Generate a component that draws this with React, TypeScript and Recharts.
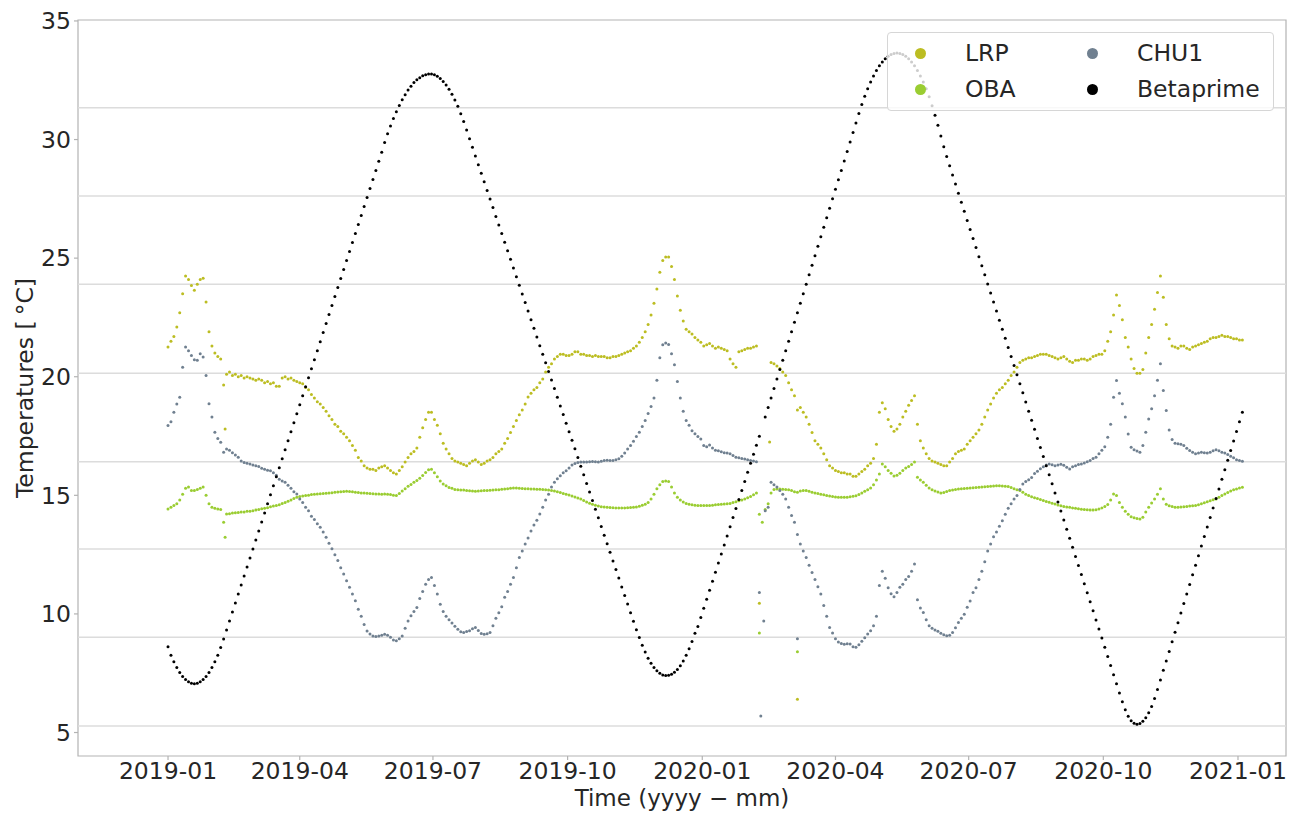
import React from 'react';
import { ScatterChart, Scatter, XAxis, YAxis, ReferenceLine, ReferenceArea, Legend } from 'recharts';

// Days counted from 2019-01-01, one reading every STEP_DAYS days
const STEP_DAYS = 2;
const xTickDays = [0, 90, 181, 273, 365, 456, 547, 639, 731];
const xTickLabels = ['2019-01', '2019-04', '2019-07', '2019-10', '2020-01', '2020-04', '2020-07', '2020-10', '2021-01'];
const yTicks = [5, 10, 15, 20, 25, 30, 35];
const gridValues = [5.28, 9.02, 12.74, 16.42, 20.15, 23.9, 27.62, 31.34];
const xDomain = [-61.5, 763.8];
const yDomain = [4.01, 35.04];

const lrp = [
  21.25, 21.5, 21.7, 22.1, 22.7, 23.5, 24.25, 24.1, 23.85, 23.65,
  23.9, 24.1, 24.15, 23.15, 21.9, 21.3, 21.0, 20.85, 20.75, 19.65,
  20.1, 20.2, 20.05, 20.1, 20.0, 20.05, 19.95, 20.0, 19.95, 19.9,
  19.85, 19.9, 19.85, 19.75, 19.8, 19.7, 19.75, 19.6, 19.6, 19.95,
  20.0, 19.9, 19.95, 19.85, 19.8, 19.75, 19.7, 19.55, 19.45, 19.25,
  19.1, 18.95, 18.85, 18.7, 18.55, 18.35, 18.2, 18.0, 17.9, 17.7,
  17.6, 17.45, 17.3, 17.1, 16.9, 16.6, 16.45, 16.25, 16.15, 16.1,
  16.1, 16.05, 16.15, 16.2, 16.25, 16.15, 16.05, 15.95, 15.9, 16.05,
  16.2, 16.4, 16.6, 16.75, 16.85, 17.0, 17.45, 17.85, 18.2, 18.5,
  18.5, 18.2, 17.95, 17.6, 17.2, 16.95, 16.75, 16.55, 16.45, 16.4,
  16.35, 16.3, 16.25, 16.35, 16.45, 16.5, 16.4, 16.3, 16.35, 16.45,
  16.5, 16.6, 16.75, 16.85, 16.95, 17.2, 17.4, 17.65, 17.9, 18.15,
  18.4, 18.6, 18.85, 19.15, 19.3, 19.45, 19.55, 19.75, 19.9, 20.2,
  20.4, 20.55, 20.75, 20.85, 20.95, 20.95, 20.9, 20.9, 20.95, 21.05,
  21.05, 20.95, 20.95, 20.9, 20.9, 20.85, 20.9, 20.85, 20.85, 20.85,
  20.8, 20.8, 20.85, 20.85, 20.9, 20.95, 21.0, 21.05, 21.1, 21.2,
  21.3, 21.45, 21.65, 21.9, 22.2, 22.6, 23.1, 23.7, 24.4, 24.9,
  25.05, 25.05, 24.65, 24.1, 23.4, 22.8, 22.35, 22.0, 21.9, 21.8,
  21.65, 21.55, 21.45, 21.3, 21.35, 21.4, 21.3, 21.2, 21.25, 21.2,
  21.15, 21.1, 20.75, 20.55, 20.4, 21.05, 21.1, 21.15, 21.2, 21.2,
  21.25, 21.3, null, null, null, null, 20.6, 20.55, 20.45, 20.35,
  20.2, 20.05, 19.75, 19.45, 19.2, 18.6, 18.7, 18.5, 18.3, 18.0,
  17.65, 17.3, 17.15, 17.0, 16.75, 16.5, 16.25, 16.15, 16.05, 16.0,
  15.95, 15.95, 15.9, 15.9, 15.8, 15.8, 15.9, 16.0, 16.1, 16.25,
  16.35, 16.55, 17.15, 18.5, 18.9, 18.65, 18.2, 17.9, 17.7, 17.8,
  18.0, 18.3, 18.55, 18.8, 19.0, 19.2, 18.0, 17.3, 17.0, 16.75,
  16.55, 16.45, 16.4, 16.35, 16.3, 16.25, 16.25, 16.4, 16.55, 16.75,
  16.85, 16.9, 16.95, 17.15, 17.3, 17.45, 17.6, 17.75, 18.0, 18.3,
  18.6, 18.85, 19.1, 19.3, 19.45, 19.55, 19.7, 19.85, 20.05, 20.2,
  20.4, 20.6, 20.7, 20.75, 20.8, 20.8, 20.85, 20.9, 20.95, 20.95,
  20.95, 20.9, 20.85, 20.8, 20.75, 20.8, 20.85, 20.75, 20.65, 20.6,
  20.7, 20.7, 20.75, 20.75, 20.7, 20.75, 20.85, 20.9, 20.95, 20.95,
  21.1, 21.5, 21.9, 22.6, 23.45, 23.0, 22.4, 21.65, 21.25, 20.75,
  20.35, 20.15, 20.15, 20.3, 21.0, 21.65, 22.2, 22.85, 23.55, 24.25,
  23.35, 22.2, 21.6, 21.3, 21.25, 21.2, 21.3, 21.3, 21.2, 21.15,
  21.25, 21.3, 21.35, 21.4, 21.45, 21.5, 21.6, 21.65, 21.65, 21.7,
  21.75, 21.7, 21.7, 21.65, 21.6, 21.6, 21.55, 21.55,
];

const oba = [
  14.42, 14.5, 14.57, 14.65, 14.8, 15.05, 15.3, 15.35, 15.2, 15.2,
  15.25, 15.3, 15.35, 15.0, 14.65, 14.5, 14.45, 14.42, 14.4, 13.86,
  14.21, 14.22, 14.25, 14.27, 14.28, 14.3, 14.3, 14.33, 14.33, 14.35,
  14.38, 14.4, 14.43, 14.46, 14.48, 14.52, 14.55, 14.57, 14.6, 14.66,
  14.7, 14.75, 14.8, 14.87, 14.92, 14.95, 14.97, 14.99, 15.0, 15.03,
  15.05, 15.06, 15.07, 15.08, 15.09, 15.1, 15.11, 15.13, 15.14, 15.15,
  15.16, 15.17, 15.16, 15.15, 15.13, 15.12, 15.1, 15.1, 15.09, 15.08,
  15.07, 15.06, 15.06, 15.05, 15.06, 15.05, 15.03, 15.0, 14.99, 15.08,
  15.18, 15.28, 15.38, 15.46, 15.55, 15.62, 15.72, 15.84, 15.96, 16.08,
  16.1, 15.95, 15.78, 15.6, 15.48, 15.4, 15.33, 15.3, 15.25, 15.23,
  15.22, 15.22, 15.2, 15.19, 15.18, 15.17, 15.18, 15.19, 15.2, 15.2,
  15.21, 15.22, 15.23, 15.24, 15.26, 15.27, 15.28, 15.3, 15.31, 15.31,
  15.3, 15.29, 15.28, 15.28, 15.27, 15.27, 15.26, 15.26, 15.25, 15.23,
  15.22, 15.2, 15.18, 15.15, 15.12, 15.08, 15.05, 15.01, 14.97, 14.93,
  14.89, 14.84, 14.78, 14.72, 14.67, 14.62, 14.58, 14.55, 14.52, 14.51,
  14.5, 14.49, 14.48, 14.47, 14.47, 14.47, 14.47, 14.48, 14.49, 14.5,
  14.51, 14.54, 14.58, 14.62, 14.7, 14.85, 15.05, 15.28, 15.45, 15.58,
  15.6, 15.58, 15.35, 15.1, 14.92, 14.8, 14.72, 14.66, 14.62, 14.6,
  14.58, 14.57, 14.57, 14.57, 14.57, 14.57, 14.58, 14.6, 14.61, 14.62,
  14.63, 14.65, 14.66, 14.7, 14.73, 14.77, 14.8, 14.85, 14.9, 14.95,
  15.02, 15.1, 14.2, 13.86, 14.4, 14.65, 15.1, 15.25, 15.27, 15.27,
  15.26, 15.25, 15.23, 15.2, 15.15, 15.13, 15.18, 15.2, 15.2, 15.17,
  15.13, 15.1, 15.08, 15.05, 15.02, 14.99, 14.97, 14.95, 14.93, 14.92,
  14.92, 14.92, 14.92, 14.94, 14.96, 14.98, 15.03, 15.1, 15.17, 15.24,
  15.31, 15.45, 15.65, 15.9, 16.32, 16.2, 16.05, 15.93, 15.82, 15.85,
  15.93, 16.05, 16.15, 16.22, 16.3, 16.4, 15.76, 15.65, 15.55, 15.42,
  15.31, 15.24, 15.18, 15.14, 15.1, 15.12, 15.16, 15.2, 15.22, 15.25,
  15.27, 15.28, 15.29, 15.3, 15.31, 15.32, 15.33, 15.34, 15.35, 15.36,
  15.37, 15.38, 15.39, 15.4, 15.4, 15.39, 15.38, 15.37, 15.33, 15.28,
  15.23, 15.2, 15.13, 15.05, 14.99, 14.94, 14.9, 14.87, 14.82, 14.78,
  14.74, 14.71, 14.67, 14.63, 14.59, 14.56, 14.53, 14.51, 14.5, 14.47,
  14.45, 14.43, 14.41, 14.4, 14.39, 14.38, 14.38, 14.39, 14.42, 14.47,
  14.53, 14.61, 14.8, 15.06, 14.99, 14.7, 14.5, 14.33, 14.2, 14.1,
  14.05, 14.02, 14.0, 14.08, 14.3, 14.5, 14.68, 14.85, 15.05, 15.28,
  14.85, 14.62, 14.56, 14.53, 14.5, 14.5, 14.51, 14.52, 14.53, 14.55,
  14.56, 14.57, 14.6, 14.64, 14.69, 14.73, 14.77, 14.81, 14.85, 14.92,
  14.99, 15.06, 15.12, 15.18, 15.23, 15.27, 15.31, 15.34,
];

const chu1 = [
  17.94, 18.1, 18.5, 18.85, 19.14, 20.4, 21.25, 21.1, 20.9, 20.72,
  20.69, 20.97, 20.83, 20.05, 18.86, 18.3, 17.66, 17.4, 17.24, 16.82,
  16.95, 16.9, 16.8, 16.7, 16.61, 16.45, 16.38, 16.35, 16.32, 16.28,
  16.25, 16.22, 16.14, 16.1, 16.06, 16.04, 15.95, 15.85, 15.68, 15.6,
  15.55, 15.42, 15.3, 15.15, 15.06, 14.85, 14.7, 14.5, 14.35, 14.12,
  13.98, 13.8, 13.65, 13.45, 13.23, 12.98, 12.75, 12.5, 12.25, 11.95,
  11.68, 11.4, 11.12, 10.84, 10.56, 10.2, 9.9, 9.55, 9.28, 9.15,
  9.07, 9.05, 9.07, 9.1, 9.14, 9.1, 9.02, 8.9, 8.87, 8.95,
  9.07, 9.4, 9.7, 9.92, 10.1, 10.27, 10.65, 10.95, 11.25, 11.45,
  11.54, 11.2, 10.84, 10.41, 10.1, 9.9, 9.75, 9.62, 9.48, 9.35,
  9.25, 9.22, 9.26, 9.29, 9.38, 9.43, 9.3, 9.17, 9.14, 9.16,
  9.22, 9.5, 9.82, 10.05, 10.3, 10.7, 10.95, 11.25, 11.54, 11.95,
  12.38, 12.65, 12.95, 13.2, 13.5, 13.75, 13.95, 14.21, 14.5, 14.8,
  15.05, 15.35, 15.55, 15.7, 15.83, 15.95, 16.04, 16.15, 16.28, 16.34,
  16.38, 16.4, 16.41, 16.4, 16.42, 16.43, 16.42, 16.4, 16.44, 16.47,
  16.48, 16.47, 16.47, 16.5, 16.54, 16.65, 16.78, 16.95, 17.1, 17.28,
  17.48, 17.66, 17.9, 18.15, 18.45, 18.75, 19.1, 19.85, 20.8, 21.35,
  21.42, 21.36, 20.97, 20.5, 19.8, 19.1, 18.55, 18.15, 17.95, 17.72,
  17.6, 17.48, 17.38, 17.1, 17.05, 17.12, 17.0, 16.9, 16.88, 16.84,
  16.8, 16.78, 16.75, 16.68, 16.61, 16.58, 16.55, 16.53, 16.5, 16.47,
  16.45, 16.42, null, null, 14.35, 14.5, 15.55, 15.45, 15.35, 15.2,
  15.05, 14.85, 14.5, 14.15, 13.86, 13.35, 12.95, 12.65, 12.38, 12.05,
  11.75, 11.45, 11.15, 10.84, 10.35, 9.9, 9.43, 9.2, 8.95, 8.82,
  8.75, 8.72, 8.74, 8.73, 8.62, 8.6, 8.7, 8.85, 9.0, 9.15,
  9.29, 9.5, 9.9, 11.2, 11.8, 11.5, 11.1, 10.85, 10.72, 10.9,
  11.12, 11.25, 11.45, 11.58, 11.8, 12.1, 10.6, 10.25, 10.06, 9.75,
  9.5, 9.4, 9.32, 9.27, 9.18, 9.12, 9.08, 9.1, 9.22, 9.42,
  9.64, 9.82, 9.99, 10.28, 10.55, 10.9, 11.1, 11.45, 11.8, 12.2,
  12.65, 12.95, 13.25, 13.45, 13.7, 13.93, 14.2, 14.45, 14.65, 14.85,
  14.99, 15.25, 15.48, 15.58, 15.66, 15.75, 15.92, 16.02, 16.12, 16.21,
  16.28, 16.32, 16.29, 16.25, 16.28, 16.31, 16.27, 16.18, 16.11, 16.2,
  16.25, 16.3, 16.32, 16.36, 16.42, 16.47, 16.55, 16.61, 16.75, 16.9,
  17.05, 17.45, 18.0, 19.14, 19.84, 19.3, 18.86, 18.3, 17.59, 17.03,
  16.92, 16.87, 16.82, 17.1, 17.66, 18.22, 18.65, 19.2, 19.85, 20.55,
  19.42, 18.58, 17.75, 17.35, 17.2, 17.17, 17.15, 17.1, 16.98, 16.89,
  16.82, 16.75, 16.78, 16.82, 16.8, 16.78, 16.82, 16.88, 16.92, 16.88,
  16.82, 16.78, 16.72, 16.65, 16.58, 16.5, 16.47, 16.44,
];

const betaprime = [
  8.62, 8.26, 7.98, 7.74, 7.53, 7.36, 7.23, 7.14, 7.08, 7.06,
  7.08, 7.14, 7.23, 7.36, 7.53, 7.74, 7.98, 8.26, 8.58, 8.94,
  9.32, 9.70, 10.08, 10.46, 10.84, 11.22, 11.60, 11.98, 12.36, 12.74,
  13.12, 13.50, 13.88, 14.26, 14.64, 15.02, 15.40, 15.78, 16.16, 16.54,
  16.92, 17.30, 17.68, 18.06, 18.44, 18.82, 19.20, 19.58, 19.96, 20.34,
  20.72, 21.10, 21.48, 21.86, 22.24, 22.62, 23.00, 23.38, 23.76, 24.14,
  24.52, 24.90, 25.28, 25.66, 26.04, 26.42, 26.80, 27.18, 27.56, 27.94,
  28.32, 28.70, 29.08, 29.46, 29.88, 30.24, 30.57, 30.89, 31.17, 31.44,
  31.68, 31.89, 32.09, 32.25, 32.40, 32.52, 32.61, 32.69, 32.73, 32.76,
  32.76, 32.73, 32.67, 32.57, 32.45, 32.30, 32.12, 31.91, 31.67, 31.40,
  31.09, 30.76, 30.40, 30.03, 29.67, 29.31, 28.94, 28.58, 28.22, 27.85,
  27.49, 27.13, 26.76, 26.40, 26.04, 25.67, 25.31, 24.95, 24.58, 24.22,
  23.86, 23.49, 23.13, 22.77, 22.40, 22.04, 21.68, 21.31, 20.95, 20.59,
  20.22, 19.86, 19.50, 19.13, 18.77, 18.41, 18.04, 17.68, 17.32, 16.96,
  16.59, 16.23, 15.87, 15.50, 15.14, 14.78, 14.41, 14.05, 13.69, 13.32,
  12.96, 12.60, 12.23, 11.87, 11.51, 11.14, 10.78, 10.42, 10.05, 9.69,
  9.33, 9.01, 8.68, 8.39, 8.13, 7.92, 7.74, 7.60, 7.50, 7.43,
  7.40, 7.41, 7.46, 7.54, 7.66, 7.82, 8.02, 8.26, 8.53, 8.84,
  9.19, 9.47, 9.85, 10.24, 10.62, 11.00, 11.38, 11.76, 12.15, 12.53,
  12.91, 13.29, 13.67, 14.06, 14.44, 14.82, 15.20, 15.58, 15.97, 16.35,
  16.73, 17.11, 17.49, null, 18.30, 18.70, 19.10, 19.50, 19.90, 20.30,
  20.70, 21.10, 21.50, 21.90, 22.30, 22.70, 23.10, 23.50, 23.90, 24.30,
  24.70, 25.10, 25.50, 25.90, 26.30, 26.70, 27.10, 27.50, 27.90, 28.30,
  28.70, 29.10, 29.50, 29.90, 30.30, 30.70, 31.10, 31.48, 31.83, 32.14,
  32.43, 32.68, 32.91, 33.11, 33.27, 33.41, 33.51, 33.59, 33.63, 33.65,
  33.63, 33.59, 33.51, 33.41, 33.27, 33.11, 32.91, 32.68, 32.43, 32.14,
  31.80, 31.42, 31.02, 30.60, 30.15, 29.70, 29.28, 28.89, 28.51, 28.13,
  27.74, 27.36, 26.98, 26.59, 26.21, 25.83, 25.45, 25.06, 24.68, 24.30,
  23.91, 23.53, 23.15, 22.77, 22.38, 22.00, 21.62, 21.23, 20.85, 20.47,
  20.08, 19.70, 19.32, 18.93, 18.55, 18.17, 17.79, 17.40, 17.02, 16.64,
  16.25, 15.87, 15.49, 15.10, 14.72, 14.34, 13.96, 13.57, 13.19, 12.81,
  12.42, 12.04, 11.66, 11.27, 10.89, 10.51, 10.13, 9.74, 9.36, 8.98,
  8.59, 8.21, 7.83, 7.44, 7.06, 6.67, 6.30, 5.96, 5.69, 5.50,
  5.39, 5.35, 5.38, 5.47, 5.62, 5.83, 6.10, 6.43, 6.81, 7.21,
  7.62, 8.02, 8.42, 8.83, 9.23, 9.63, 10.04, 10.44, 10.84, 11.24,
  11.65, 12.05, 12.45, 12.86, 13.26, 13.66, 14.07, 14.47, 14.87, 15.27,
  15.68, 16.08, 16.48, 16.89, 17.29, 17.69, 18.10, 18.50,
];

// isolated readings (day, value)
const lrpExtraDays = [39, 404, 411, 430];
const lrpExtraVals = [17.8, 10.45, 17.25, 6.4];
const obaExtraDays = [39, 404, 430];
const obaExtraVals = [13.23, 9.2, 8.4];
const chu1ExtraDays = [404, 405, 407, 430];
const chu1ExtraVals = [10.9, 5.7, 9.7, 8.95];

const seriesNames = ['LRP', 'OBA', 'CHU1', 'Betaprime'];
const seriesColors = ['#bcbd22', '#9acd32', '#708090', '#000000'];

type Pt = { d: number; v: number };
const toPoints = (vals: (number | null)[], extraDays: number[] = [], extraVals: number[] = []): Pt[] => {
  const pts: Pt[] = [];
  vals.forEach((v, i) => {
    if (v !== null && v !== undefined) pts.push({ d: i * STEP_DAYS, v });
  });
  extraDays.forEach((d, i) => pts.push({ d, v: extraVals[i] }));
  return pts;
};

const seriesData = [
  toPoints(lrp, lrpExtraDays, lrpExtraVals),
  toPoints(oba, obaExtraDays, obaExtraVals),
  toPoints(chu1, chu1ExtraDays, chu1ExtraVals),
  toPoints(betaprime),
];

const FONT = "'DejaVu Sans', sans-serif";
const TEXT = '#262626';
const SPINE = '#b3b3b3';
const FS = 23.5;

const makeDot = (color: string) => (props: any) => {
  if (props.cx == null || props.cy == null) return <g />;
  return <circle cx={props.cx} cy={props.cy} r={1.5} fill={color} />;
};

const LegendBox = () => (
  <div
    style={{
      position: 'relative',
      width: 387,
      height: 79,
      boxSizing: 'border-box',
      border: '1px solid #d6d6d6',
      borderRadius: 4,
      background: 'rgba(255,255,255,0.8)',
      fontFamily: FONT,
      fontSize: FS,
      color: TEXT,
    }}
  >
    {seriesNames.map((name, i) => {
      const col = Math.floor(i / 2);
      const row = i % 2;
      return (
        <div
          key={name}
          style={{
            position: 'absolute',
            left: 26.5 + col * 172,
            top: 8 + row * 36,
            height: 24,
            lineHeight: '24px',
            display: 'flex',
            alignItems: 'center',
            whiteSpace: 'nowrap',
          }}
        >
          <span
            style={{
              display: 'inline-block',
              width: 11,
              height: 11,
              borderRadius: '50%',
              background: seriesColors[i],
              marginRight: 39.5,
            }}
          />
          <span>{name}</span>
        </div>
      );
    })}
  </div>
);

export default function App() {
  return (
    <div style={{ position: 'absolute', left: 0, top: 0, width: 1302, height: 813, background: '#fff' }}>
      <ScatterChart
        width={1302}
        height={813}
        margin={{ top: 20, right: 16, bottom: 17, left: 18 }}
        style={{ fontFamily: FONT }}
      >
        {gridValues.map((g) => (
          <ReferenceLine key={g} y={g} stroke="#dcdcdc" strokeWidth={1.5} ifOverflow="hidden" />
        ))}
        <XAxis
          type="number"
          dataKey="d"
          domain={xDomain}
          allowDataOverflow
          ticks={xTickDays}
          interval={0}
          tickFormatter={(d: number) => xTickLabels[xTickDays.indexOf(d)] ?? ''}
          axisLine={false}
          tickLine={{ stroke: SPINE, strokeWidth: 1.2 }}
          tickSize={4}
          tickMargin={2}
          height={40}
          tick={{ fontSize: FS, fill: TEXT, fontFamily: FONT }}
        />
        <YAxis
          type="number"
          dataKey="v"
          domain={yDomain}
          allowDataOverflow
          ticks={yTicks}
          interval={0}
          axisLine={false}
          tickLine={{ stroke: SPINE, strokeWidth: 1.2 }}
          tickSize={4}
          tickMargin={3}
          width={60}
          tick={{ fontSize: FS, fill: TEXT, fontFamily: FONT }}
        />
        {seriesData.map((pts, i) => (
          <Scatter
            key={seriesNames[i]}
            name={seriesNames[i]}
            data={pts}
            fill={seriesColors[i]}
            shape={makeDot(seriesColors[i])}
            isAnimationActive={false}
          />
        ))}
        <ReferenceArea
          x1={xDomain[0]}
          x2={xDomain[1]}
          y1={yDomain[0]}
          y2={yDomain[1]}
          fill="none"
          fillOpacity={0}
          stroke={SPINE}
          strokeWidth={1.2}
          ifOverflow="visible"
        />
        <Legend
          layout="horizontal"
          verticalAlign="middle"
          align="center"
          content={() => <LegendBox />}
          wrapperStyle={{ left: 887, top: 32, width: 387, height: 79, margin: 0, padding: 0 }}
        />
      </ScatterChart>
      <div
        style={{
          position: 'absolute',
          left: 482,
          width: 400,
          top: 789,
          textAlign: 'center',
          fontFamily: FONT,
          fontSize: 23,
          lineHeight: '18px',
          color: TEXT,
          whiteSpace: 'nowrap',
        }}
      >
        Time (yyyy − mm)
      </div>
      <div
        style={{
          position: 'absolute',
          left: 25,
          top: 388,
          transform: 'translate(-50%, -50%) rotate(-90deg)',
          fontFamily: FONT,
          fontSize: FS,
          lineHeight: '24px',
          color: TEXT,
          whiteSpace: 'nowrap',
        }}
      >
        Temperatures [<span style={{ marginLeft: 5 }}>°</span>C]
      </div>
    </div>
  );
}
